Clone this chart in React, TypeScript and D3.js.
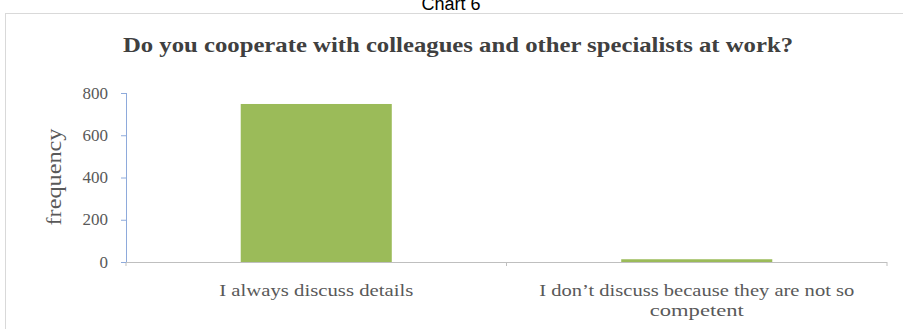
import React from "react";
import * as d3 from "d3";

const categories = ["I always discuss details", "I don’t discuss because they are not so competent"];
const categoryLines = [["I always discuss details"], ["I don’t discuss because they are not so", "competent"]];
const values = [748, 13];
const yTicks = [0, 200, 400, 600, 800];
const title = "Do you cooperate with colleagues and other specialists at work?";
const caption = "Chart 6";
const yLabel = "frequency";

export default function App() {
  const W = 903, H = 329;
  const x0 = 126, x1 = 887, yBase = 262, yTop = 93;
  const x = d3.scaleBand<string>().domain(categories).range([x0, x1]).paddingInner(0.603).paddingOuter(0.3015);
  const y = d3.scaleLinear().domain([0, 800]).range([yBase, yTop]);
  const serif = "'Liberation Serif', 'DejaVu Serif', serif";
  const step = x.step();
  const lineLens = [[194], [315, 94]];
  return (
    <svg width={W} height={H} style={{ position: "absolute", left: 0, top: 0, background: "#fff" }}>
      <text x={451} y={10} textAnchor="middle" fontFamily="'Liberation Sans', Arial, sans-serif" fontSize={18} fill="#000">{caption}</text>
      <rect x={5.5} y={13.5} width={W} height={H} fill="#fff" stroke="#d9d9d9" strokeWidth={1} />
      <text x={458} y={52} textAnchor="middle" fontFamily={serif} fontWeight="bold" fontSize={21} fill="#404040" textLength={670} lengthAdjust="spacingAndGlyphs">{title}</text>
      {categories.map((c, i) => (
        <rect key={c} x={x(c)!} y={y(values[i])} width={x.bandwidth()} height={yBase - y(values[i])} fill="#9bbb59" />
      ))}
      <line x1={x0} x2={x1} y1={yBase + 0.5} y2={yBase + 0.5} stroke="#bfbfbf" />
      {[0, 1, 2].map(i => (
        <line key={i} x1={x0 + i * step} x2={x0 + i * step} y1={yBase} y2={yBase + 4} stroke="#bfbfbf" />
      ))}
      <line x1={x0 + 0.5} x2={x0 + 0.5} y1={yTop} y2={yBase} stroke="#8eaadb" />
      {yTicks.map(t => (
        <g key={t}>
          <line x1={x0 - 5} x2={x0} y1={y(t) + 0.5} y2={y(t) + 0.5} stroke="#8eaadb" />
          <text x={108} y={y(t) + 5.5} textAnchor="end" fontFamily={serif} fontSize={17} fill="#595959">{t}</text>
        </g>
      ))}
      <text transform={`translate(61,177) rotate(-90)`} textAnchor="middle" fontFamily={serif} fontSize={20} fill="#595959" textLength={97} lengthAdjust="spacingAndGlyphs">{yLabel}</text>
      {categories.map((c, i) => (
        <g key={c}>
          {categoryLines[i].map((l, j) => (
            <text key={j} x={x(c)! + x.bandwidth() / 2} y={296 + j * 20} textAnchor="middle" fontFamily={serif} fontSize={17} fill="#595959" textLength={lineLens[i][j]} lengthAdjust="spacingAndGlyphs">{l}</text>
          ))}
        </g>
      ))}
    </svg>
  );
}
